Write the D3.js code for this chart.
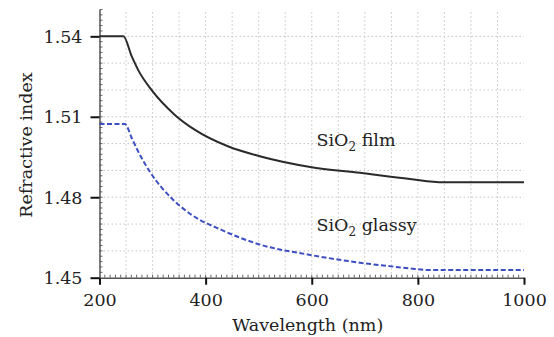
<!DOCTYPE html>
<html>
<head>
<meta charset="utf-8">
<script src="https://cdn.jsdelivr.net/npm/d3@7"></script>
<style>
  body { margin: 0; background: #fff; }
  svg text { fill: #222; }
</style>
</head>
<body>
<svg id="chart" width="554" height="337"></svg>
<script>
// data
let filmWavelength = [200, 245, 261, 273, 298, 342, 380, 443, 502, 597, 691, 785, 848, 1000]
let filmIndex = [1.540, 1.540, 1.5324, 1.5274, 1.520, 1.5107, 1.5051, 1.4989, 1.4953, 1.4913, 1.4891, 1.4868, 1.4856, 1.4856]

let glassyWavelength = [200, 248, 261, 273, 295, 339, 374, 430, 500, 597, 691, 785, 817, 1000]
let glassyIndex = [1.5073, 1.5073, 1.5020, 1.4970, 1.4895, 1.4790, 1.4734, 1.4678, 1.4625, 1.4585, 1.4556, 1.4535, 1.4529, 1.4529]

let xTicks = [200, 400, 600, 800, 1000]
let yTicks = [1.45, 1.48, 1.51, 1.54]

let serif = "'DejaVu Serif', 'Liberation Serif', serif"
let fontSize = 17.5

let svg = d3.select("#chart")

let margin = {left: 99.5, right: 30, top: 9.5, bottom: 59.3}
let width = 554 - margin.left - margin.right
let height = 337 - margin.top - margin.bottom

let x = d3.scaleLinear().domain([200, 1000]).range([margin.left, margin.left + width])
let y = d3.scaleLinear().domain([1.45, 1.55]).range([margin.top + height, margin.top])

// dotted grid
let grid = svg.append("g")
    .attr("stroke", "#c4c4c4")
    .attr("stroke-width", 1)
    .attr("stroke-dasharray", "1.5,2.5")

grid.selectAll("line.v")
    .data(d3.range(250, 1000, 50))
    .join("line")
    .attr("class", "v")
    .attr("x1", d => x(d)).attr("x2", d => x(d))
    .attr("y1", y(1.45)).attr("y2", y(1.55))

grid.selectAll("line.h")
    .data(d3.range(1.46, 1.545, 0.01))
    .join("line")
    .attr("class", "h")
    .attr("x1", x(200)).attr("x2", x(1000))
    .attr("y1", d => y(d)).attr("y2", d => y(d))

// minor ticks, pointing inward
let minor = svg.append("g").attr("stroke", "#666").attr("stroke-width", 1)
minor.selectAll("line.mx")
    .data(d3.range(210, 1000, 10))
    .join("line")
    .attr("class", "mx")
    .attr("x1", d => x(d)).attr("x2", d => x(d))
    .attr("y1", y(1.45)).attr("y2", y(1.45) - 3)
minor.selectAll("line.my")
    .data(d3.range(1.452, 1.55, 0.002))
    .join("line")
    .attr("class", "my")
    .attr("x1", x(200)).attr("x2", x(200) + 3)
    .attr("y1", d => y(d)).attr("y2", d => y(d))

// axes
let xAxis = svg.append("g")
    .attr("transform", `translate(0,${y(1.45)})`)
    .call(d3.axisBottom(x).tickValues(xTicks).tickSize(7).tickSizeOuter(0).tickPadding(9).tickFormat(d3.format("d")))
let yAxis = svg.append("g")
    .attr("transform", `translate(${x(200)},0)`)
    .call(d3.axisLeft(y).tickValues(yTicks).tickSize(9).tickSizeOuter(0).tickPadding(8).tickFormat(d3.format(".2f")))

for (let ax of [xAxis, yAxis]) {
    ax.attr("font-family", serif).attr("font-size", fontSize)
    ax.select(".domain").attr("stroke", "#555").attr("stroke-width", 1.5)
    ax.selectAll(".tick line").attr("stroke", "#111").attr("stroke-width", 2)
    ax.selectAll(".tick text").attr("fill", "#222")
}
yAxis.selectAll(".tick text").attr("dy", "0.35em")

// curves
let line = d3.line()
    .x(d => x(d[0]))
    .y(d => y(d[1]))
    .curve(d3.curveMonotoneX)

svg.append("path")
    .datum(filmWavelength.map((w, i) => [w, filmIndex[i]]))
    .attr("d", line)
    .attr("fill", "none")
    .attr("stroke", "#2a2a2a")
    .attr("stroke-width", 2)

svg.append("path")
    .datum(glassyWavelength.map((w, i) => [w, glassyIndex[i]]))
    .attr("d", line)
    .attr("fill", "none")
    .attr("stroke", "#3d4fc0")
    .attr("stroke-width", 2)
    .attr("stroke-dasharray", "5,2.5")

// curve labels with subscript
function addLabel(px, py, name) {
    let t = svg.append("text")
        .attr("x", px).attr("y", py)
        .attr("font-family", serif)
        .attr("font-size", fontSize)
    t.append("tspan").text("SiO")
    t.append("tspan").text("2").attr("font-size", 12).attr("dy", 5)
    t.append("tspan").text(" " + name).attr("dy", -5)
}
addLabel(316.5, 146, "film")
addLabel(316.5, 231, "glassy")

// axis titles
svg.append("text")
    .attr("x", (x(200) + x(1000)) / 2 - 4)
    .attr("y", 331)
    .attr("text-anchor", "middle")
    .attr("font-family", serif)
    .attr("font-size", fontSize)
    .text("Wavelength (nm)")

svg.append("text")
    .attr("transform", "rotate(-90)")
    .attr("x", -145)
    .attr("y", 32)
    .attr("text-anchor", "middle")
    .attr("font-family", serif)
    .attr("font-size", fontSize)
    .text("Refractive index")
</script>
</body>
</html>
